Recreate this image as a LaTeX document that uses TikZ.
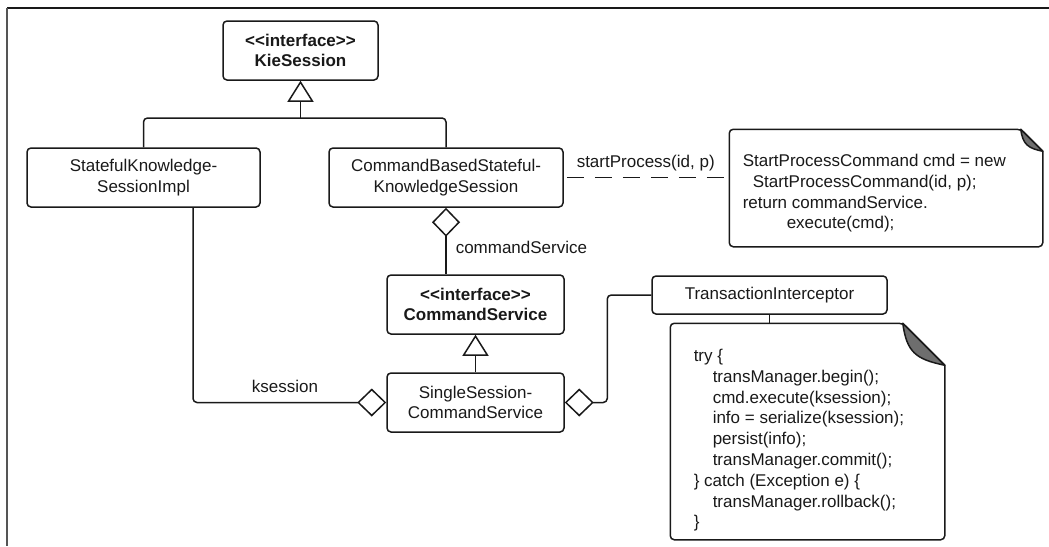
\documentclass[tikz,border=0pt]{standalone}
\usepackage{fontspec}
\setmainfont{Liberation Sans}[Ligatures=TeXOff]
\usetikzlibrary{arrows.meta}
\definecolor{foldgray}{RGB}{110,110,110}
\definecolor{bordergray}{RGB}{85,85,85}
\definecolor{ink}{RGB}{25,25,25}
\begin{document}
\begin{tikzpicture}[x=1pt,y=-1pt,
  font=\fontsize{17}{20.8}\selectfont,
  line width=1.5pt, line join=round, draw=ink, text=ink,
  cls/.style={draw=ink, rounded corners=4pt, align=center, inner sep=0pt},
  notebox/.style={inner sep=0pt},
  code/.style={align=left, inner sep=0pt, anchor=north west},
  lbl/.style={inner sep=0pt},
  gen/.style={-{Triangle[open,length=21pt,width=26pt]}},
  agg/.style={{Diamond[open,length=29pt,width=28pt]}-},
  conn/.style={rounded corners=4pt},
]
\useasboundingbox (0,0) rectangle (1049,546);
% frame lines
\draw[line width=2pt] (7,8) -- (1049,8);
\draw[line width=2pt, draw=bordergray] (7,8) -- (7,546);

% classes
\node[cls, minimum width=155pt, minimum height=59pt] (kie) at (300.5,50.5)
  {\textbf{<<interface>>}\\\textbf{KieSession}};
\node[cls, minimum width=233pt, minimum height=59pt] (skimpl) at (143.5,177.5)
  {StatefulKnowledge-\\SessionImpl};
\node[cls, minimum width=234pt, minimum height=59pt] (cbs) at (446,177.5)
  {CommandBasedStateful-\\KnowledgeSession};
\node[cls, minimum width=177pt, minimum height=59pt] (cmdsvc) at (475.5,304.5)
  {\textbf{<<interface>>}\\\textbf{CommandService}};
\node[cls, minimum width=177pt, minimum height=59pt] (single) at (475.5,402.5)
  {SingleSession-\\CommandService};
\node[cls, minimum width=235pt, minimum height=38pt] (trans) at (769.5,295)
  {TransactionInterceptor};

% notes
\node[notebox, minimum width=312pt, minimum height=116pt] (note1) at (886,188) {};
\draw (note1.west) [rounded corners=4pt]-- (note1.north west) -- ([xshift=-22pt]note1.north east)
  [sharp corners]-- ([yshift=-22pt]note1.north east)
  [rounded corners=4pt]-- (note1.south east) -- (note1.south west) -- cycle;
\filldraw[fill=foldgray] ([xshift=-22pt]note1.north east) .. controls +(2,15) and +(-15,-3) .. ([yshift=-22pt]note1.north east) -- cycle;
\node[code] (t1) at (742,153.5)
  {StartProcessCommand cmd = new\\\hspace*{10pt}StartProcessCommand(id, p);\\return commandService.\\\hspace*{44pt}execute(cmd);};

\node[notebox, minimum width=273pt, minimum height=215pt] (note2) at (807.5,431.5) {};
\draw (note2.west) [rounded corners=4pt]-- (note2.north west) -- ([xshift=-42pt]note2.north east)
  [sharp corners]-- ([yshift=-42pt]note2.north east)
  [rounded corners=4pt]-- (note2.south east) -- (note2.south west) -- cycle;
\filldraw[fill=foldgray] ([xshift=-42pt]note2.north east) .. controls +(4,29) and +(-29,-6) .. ([yshift=-42pt]note2.north east) -- cycle;
\node[code] (t2) at (693,348.5)
  {try \{\\
   \hspace*{19pt}transManager.begin();\\
   \hspace*{19pt}cmd.execute(ksession);\\
   \hspace*{19pt}info = serialize(ksession);\\
   \hspace*{19pt}persist(info);\\
   \hspace*{19pt}transManager.commit();\\
   \} catch (Exception e) \{\\
   \hspace*{19pt}transManager.rollback();\\
   \}};

% connectors
\coordinate (bus) at (300.5,118);
\draw[conn] (skimpl.north) |- (bus) -| (cbs.north);
\draw[gen] (bus) -- (kie.south);
\draw[agg] (cbs.south) -- (cbs.south |- cmdsvc.north);
\node[lbl, anchor=west] (lcs) at (455,247) {commandService};
\draw[gen] (single.north) -- (cmdsvc.south);
\draw[agg, conn] (single.west) -| ([xshift=49.5pt]skimpl.south);
\node[lbl] (lks) at (285,386) {ksession};
\draw[agg, conn] (single.east) -| ([xshift=-44pt]trans.west) -- (trans.west);
\draw (trans.south) -- (trans.south |- note2.north);
\draw[dash pattern=on 17pt off 11pt, dash phase=-3pt] (cbs.east) -- (cbs.east -| note1.west);
\node[lbl, anchor=west] (lsp) at (576,163) {startProcess(id, p)};
\end{tikzpicture}
\end{document}
